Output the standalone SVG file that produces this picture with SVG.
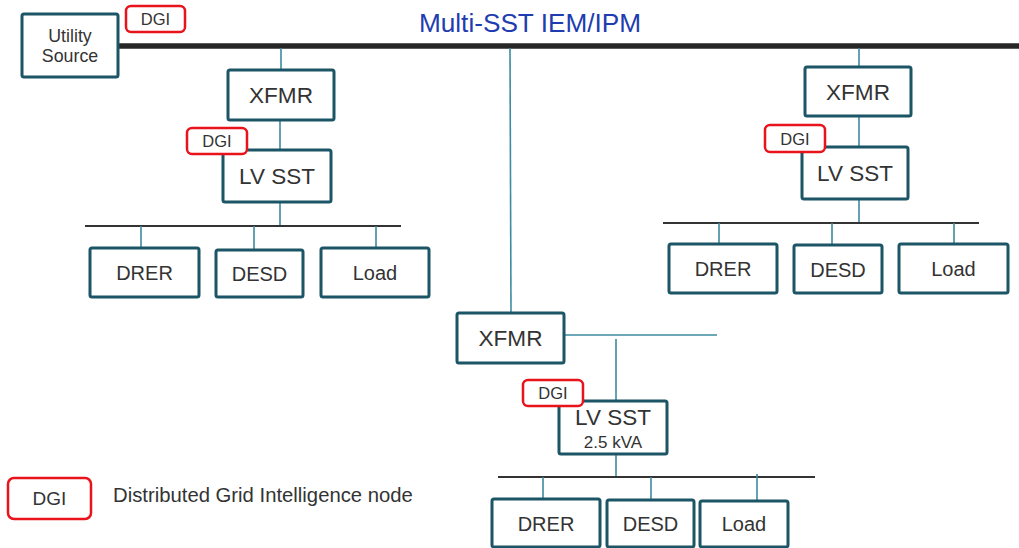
<svg xmlns="http://www.w3.org/2000/svg" width="1019" height="548" viewBox="0 0 1019 548">
<style>
.box{fill:#fff;stroke:#1b5566;stroke-width:3}
.dgi{fill:#fff;stroke:#e8131b;stroke-width:2.5}
.t{font-family:"Liberation Sans",Arial,sans-serif;fill:#333;text-anchor:middle}
.c{stroke:#3d8ba0;stroke-width:1.6;fill:none}
.bus{stroke:#333;stroke-width:2.2;fill:none}
</style>
<rect width="1019" height="548" fill="#fff"/>
<text x="530" y="32" font-family="Liberation Sans,Arial,sans-serif" font-size="26.2" fill="#1f3db0" text-anchor="middle">Multi-SST IEM/IPM</text>
<g id="connectors">
<line x1="118" y1="46" x2="1019" y2="46" stroke="#262626" stroke-width="5.5"/>
<line class="c" x1="281" y1="48" x2="281" y2="70"/>
<line class="c" x1="280" y1="120" x2="280" y2="150"/>
<line class="c" x1="280" y1="202" x2="280" y2="226"/>
<line class="bus" x1="85" y1="226" x2="401" y2="226"/>
<line class="c" x1="141" y1="226" x2="141" y2="248"/>
<line class="c" x1="254" y1="226" x2="254" y2="250"/>
<line class="c" x1="376" y1="226" x2="376" y2="248"/>
<line class="c" x1="859" y1="48" x2="859" y2="67"/>
<line class="c" x1="859" y1="116" x2="859" y2="147"/>
<line class="c" x1="859" y1="199" x2="859" y2="223"/>
<line class="bus" x1="663" y1="223" x2="979" y2="223"/>
<line class="c" x1="719" y1="223" x2="719" y2="244"/>
<line class="c" x1="832" y1="223" x2="832" y2="245"/>
<line class="c" x1="954" y1="223" x2="954" y2="244"/>
<line class="c" x1="510" y1="48" x2="511" y2="313"/>
<line class="c" x1="564" y1="335" x2="717" y2="335"/>
<line class="c" x1="616" y1="339" x2="616" y2="401"/>
<line class="c" x1="616" y1="454" x2="616" y2="477"/>
<line class="bus" x1="498" y1="477" x2="815" y2="477"/>
<line class="c" x1="543" y1="477" x2="543" y2="499"/>
<line class="c" x1="651" y1="477" x2="651" y2="500"/>
<line class="c" x1="757" y1="474" x2="757" y2="501"/>
</g>
<g id="utility"><rect class="box" x="22" y="14" width="96" height="63" rx="2"/><text class="t" x="70" y="42" font-size="17.8">Utility</text><text class="t" x="70" y="62" font-size="17.8">Source</text></g>
<g id="dgi-utility"><rect class="dgi" x="126" y="6" width="59" height="26" rx="5"/><text class="t" x="155.5" y="25" font-size="16.5">DGI</text></g>
<g id="xfmr-left"><rect class="box" x="228" y="70" width="106" height="50" rx="2"/><text class="t" x="281" y="103" font-size="22.6">XFMR</text></g>
<g id="lvsst-left"><rect class="box" x="223" y="150" width="108" height="52" rx="2"/><text class="t" x="277" y="184" font-size="22.5">LV SST</text></g>
<g id="dgi-left"><rect class="dgi" x="187" y="128" width="60" height="26" rx="5"/><text class="t" x="217" y="147" font-size="16.5">DGI</text></g>
<g id="drer-left"><rect class="box" x="90" y="248" width="109" height="49" rx="2"/><text class="t" x="144.5" y="279.5" font-size="20">DRER</text></g>
<g id="desd-left"><rect class="box" x="216" y="250" width="87" height="47" rx="2"/><text class="t" x="259.5" y="280.5" font-size="20">DESD</text></g>
<g id="load-left"><rect class="box" x="321" y="248" width="108" height="49" rx="2"/><text class="t" x="375" y="279.5" font-size="20">Load</text></g>
<g id="xfmr-right"><rect class="box" x="805" y="67" width="106" height="49" rx="2"/><text class="t" x="858" y="99.5" font-size="22.6">XFMR</text></g>
<g id="lvsst-right"><rect class="box" x="802" y="147" width="106" height="52" rx="2"/><text class="t" x="855" y="181" font-size="22.5">LV SST</text></g>
<g id="dgi-right"><rect class="dgi" x="765" y="125" width="60" height="27" rx="5"/><text class="t" x="795" y="144.5" font-size="16.5">DGI</text></g>
<g id="drer-right"><rect class="box" x="669" y="244" width="108" height="49" rx="2"/><text class="t" x="723" y="275.5" font-size="20">DRER</text></g>
<g id="desd-right"><rect class="box" x="794" y="245" width="88" height="48" rx="2"/><text class="t" x="838" y="276.5" font-size="20">DESD</text></g>
<g id="load-right"><rect class="box" x="899" y="244" width="109" height="49" rx="2"/><text class="t" x="953.5" y="275.5" font-size="20">Load</text></g>
<g id="xfmr-center"><rect class="box" x="457" y="313" width="107" height="50" rx="2"/><text class="t" x="510.5" y="346" font-size="22.6">XFMR</text></g>
<g id="lvsst-center"><rect class="box" x="559" y="401" width="108" height="53" rx="2"/><text class="t" x="613" y="425" font-size="22.5">LV SST</text><text class="t" x="613" y="448" font-size="17">2.5 kVA</text></g>
<g id="dgi-center"><rect class="dgi" x="523" y="380" width="60" height="26" rx="5"/><text class="t" x="553" y="399" font-size="16.5">DGI</text></g>
<g id="drer-center"><rect class="box" x="492" y="499" width="108" height="48" rx="2"/><text class="t" x="546" y="531" font-size="20">DRER</text></g>
<g id="desd-center"><rect class="box" x="607" y="500" width="87" height="47" rx="2"/><text class="t" x="650.5" y="531" font-size="20">DESD</text></g>
<g id="load-center"><rect class="box" x="700" y="501" width="88" height="46" rx="2"/><text class="t" x="744" y="531" font-size="20">Load</text></g>
<g id="legend"><rect class="dgi" x="8" y="478" width="83" height="41" rx="6"/><text class="t" x="49.5" y="505" font-size="19">DGI</text><text x="113" y="502" font-family="Liberation Sans,Arial,sans-serif" font-size="20.3" fill="#333">Distributed Grid Intelligence node</text></g>
</svg>
